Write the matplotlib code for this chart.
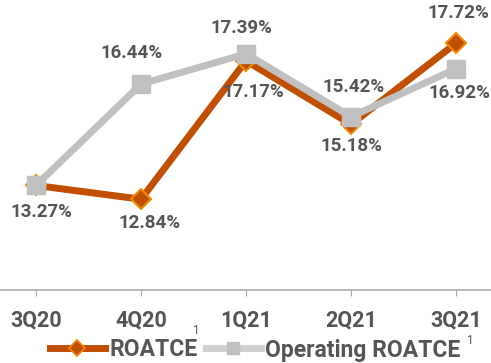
import matplotlib.pyplot as plt
from matplotlib.lines import Line2D

plt.rcParams['font.family'] = ['Roboto', 'DejaVu Sans']

quarters = ['3Q20', '4Q20', '1Q21', '2Q21', '3Q21']
roatce = [13.27, 12.84, 17.17, 15.18, 17.72]
operating = [13.27, 16.44, 17.39, 15.42, 16.92]

# label offsets in pixels (dx, dy) for each point
roatce_off = [(5, -27), (9, -24), (7, -31), (0, -22), (2, 30)]
operating_off = [(5, -27), (-9, 31), (-5, 26), (3, 30), (3, -24)]

txt = '#555555'
orange = '#C04F00'
gray = '#C0C0C0'

fig = plt.figure(figsize=(4.91, 3.63), dpi=100)
ax = fig.add_axes([0, 0.201, 1, 0.799])

x = range(len(quarters))
ax.plot(x, roatce, color=orange, lw=5, marker='D', ms=10,
        mfc=orange, mec='#F08A00', mew=1.5, zorder=2)
ax.plot(x, operating, color=gray, lw=5, marker='s', ms=12.5,
        mfc=gray, mec=gray, zorder=3)

fmt = dict(ha='center', va='center', fontsize=13.5, fontweight='bold',
           color=txt, textcoords='offset pixels')
# the first quarter shares one value, so label it once
for i, v in enumerate(roatce):
    if i == 0:
        continue
    ax.annotate(f'{v:.2f}%', (i, v), xytext=roatce_off[i], **fmt)
for i, v in enumerate(operating):
    ax.annotate(f'{v:.2f}%', (i, v), xytext=operating_off[i], **fmt)

ax.set_xlim(-0.343, 4.333)
ax.set_ylim(10, 19.07)
ax.set_xticks(list(x))
ax.set_xticklabels(quarters, fontsize=15.5, fontweight='bold', color=txt)
ax.tick_params(axis='x', length=4, color='#AAAAAA', pad=10)
ax.set_yticks([])
for s in ['top', 'right', 'left']:
    ax.spines[s].set_visible(False)
ax.spines['bottom'].set_color('#AAAAAA')
ax.spines['bottom'].set_linewidth(1.2)

handles = [
    Line2D([], [], color=orange, lw=5, marker='D', ms=8, mfc=orange,
           mec='#F08A00', mew=1.2),
    Line2D([], [], color='#D0D0D0', lw=5, marker='s', ms=9, mfc='#C0C0C0',
           mec='#C0C0C0'),
]
leg = fig.legend(handles, ['ROATCE', 'Operating ROATCE'], loc='center',
                 bbox_to_anchor=(0.52, 1 - 350 / 363), ncol=2, frameon=False,
                 handlelength=2.4, handletextpad=0.2, columnspacing=0.35,
                 borderpad=0, prop={'size': 16.5, 'weight': 'bold'})
for t in leg.get_texts():
    t.set_color(txt)

fig.text(196 / 491, 1 - 331 / 363, '1', fontsize=8.5, color=txt, ha='center', va='center')
fig.text(470 / 491, 1 - 340 / 363, '1', fontsize=8.5, color=txt, ha='center', va='center')

fig.savefig('out.png', dpi=100)
